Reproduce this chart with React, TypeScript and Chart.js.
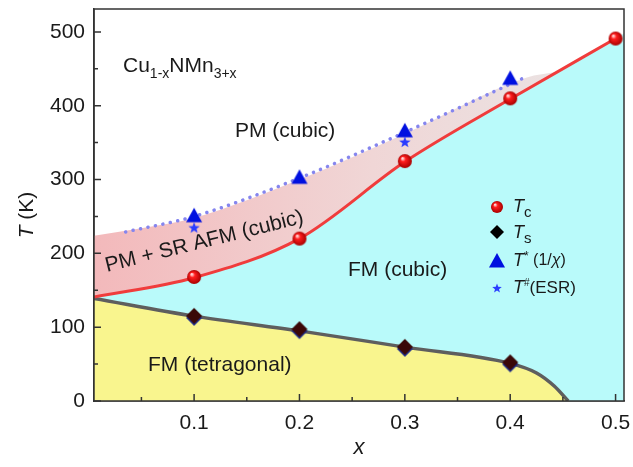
import { useEffect, useRef } from 'react'
import { Chart, registerables } from 'chart.js'

Chart.register(...registerables)

const FONT = '"Liberation Sans", Arial, sans-serif'

// measured points
const tcX = [0.1, 0.2, 0.3, 0.4, 0.5]
const tcValues = [168, 220, 325, 410, 491]
const tsX = [0.1, 0.2, 0.3, 0.4]
const tsValues = [114, 96, 72, 51]
const tStarX = [0.1, 0.2, 0.3, 0.4]
const tStarValues = [251, 303, 366, 437]
const esrX = [0.1, 0.3]
const esrValues = [235, 351]

// phase boundaries
const tcLineX = [0.005, 0.1, 0.2, 0.3, 0.4, 0.5]
const tcLineY = [141, 167, 220, 324, 409, 491]
const cubicEdgeX = [0.005, 0.1, 0.2, 0.3, 0.4, 0.5, 0.508]
const cubicEdgeY = [141, 167, 220, 324, 409, 491, 498]
const tsLineX = [0.005, 0.1, 0.2, 0.3, 0.4, 0.425, 0.442, 0.455]
const tsLineY = [139, 115, 95, 73, 51, 38, 20, 0]
const pinkEdgeX = [0.005, 0.05, 0.1, 0.2, 0.3, 0.415, 0.445]
const pinkEdgeY = [224, 234, 248, 300, 362, 438, 446]
const dotLineX = [0.035, 0.1, 0.2, 0.3, 0.415]
const dotLineY = [229, 250, 302, 364, 439]

// ticks
const xMajor = [0.1, 0.2, 0.3, 0.4, 0.5]
const xMinor = [0.05, 0.15, 0.25, 0.35, 0.45]
const xTickLabels = ['0.1', '0.2', '0.3', '0.4', '0.5']
const yMajor = [0, 100, 200, 300, 400, 500]
const yMinor = [50, 150, 250, 350, 450]
const yTickLabels = ['0', '100', '200', '300', '400', '500']

const pts = (xs: number[], ys: number[]) => xs.map((x, i) => ({ x, y: ys[i] }))
const near = (a: number, b: number) => Math.abs(a - b) < 1e-9

function makeSphere(r: number) {
  const c = document.createElement('canvas')
  c.width = c.height = r * 2 + 2
  const g = c.getContext('2d')!
  const cx = r + 1
  const grad = g.createRadialGradient(cx - r * 0.35, cx - r * 0.4, r * 0.1, cx, cx, r)
  grad.addColorStop(0, '#ffd6d6')
  grad.addColorStop(0.3, '#ff1e1e')
  grad.addColorStop(1, '#a80000')
  g.fillStyle = grad
  g.beginPath()
  g.arc(cx, cx, r, 0, Math.PI * 2)
  g.fill()
  return c
}

function makeDiamond(r: number, shadow: boolean) {
  const c = document.createElement('canvas')
  c.width = r * 2 + 2
  c.height = r * 2 + 4
  const g = c.getContext('2d')!
  const diamond = (cy: number, color: string) => {
    g.fillStyle = color
    g.beginPath()
    g.moveTo(r + 1, cy - r)
    g.lineTo(r * 2 + 1, cy)
    g.lineTo(r + 1, cy + r)
    g.lineTo(1, cy)
    g.closePath()
    g.fill()
  }
  if (shadow) diamond(r + 3, '#1c2a8a')
  diamond(r + 1, shadow ? '#3a0808' : '#000000')
  return c
}

function makeTriangle(r: number, color: string) {
  const c = document.createElement('canvas')
  c.width = c.height = r * 2 + 2
  const g = c.getContext('2d')!
  g.fillStyle = color
  g.beginPath()
  g.moveTo(r + 1, 1)
  g.lineTo(r * 2 + 1, r * 2 * 0.9 + 1)
  g.lineTo(1, r * 2 * 0.9 + 1)
  g.closePath()
  g.fill()
  return c
}

function makeStar(r: number, color: string) {
  const c = document.createElement('canvas')
  c.width = c.height = r * 2 + 2
  const g = c.getContext('2d')!
  g.fillStyle = color
  g.beginPath()
  for (let i = 0; i < 10; i++) {
    const rad = i % 2 === 0 ? r : r * 0.42
    const a = -Math.PI / 2 + (i * Math.PI) / 5
    const px = r + 1 + rad * Math.cos(a)
    const py = r + 1.5 + rad * Math.sin(a)
    if (i === 0) g.moveTo(px, py)
    else g.lineTo(px, py)
  }
  g.closePath()
  g.fill()
  return c
}

type Seg = { t: string; size: number; italic?: boolean; dy?: number }

function drawRich(ctx: CanvasRenderingContext2D, x: number, y: number, segs: Seg[]) {
  let cx = x
  segs.forEach(s => {
    ctx.font = `${s.italic ? 'italic ' : ''}${s.size}px ${FONT}`
    ctx.fillText(s.t, cx, y + (s.dy || 0))
    cx += ctx.measureText(s.t).width
  })
}

const App: React.FC = () => {
  const chartRef = useRef<HTMLCanvasElement>(null)
  const chartInstanceRef = useRef<Chart | null>(null)

  useEffect(() => {
    if (!chartRef.current) return
    if (chartInstanceRef.current) chartInstanceRef.current.destroy()

    const sphere = makeSphere(7)
    const diamond = makeDiamond(8, true)
    const triangle = makeTriangle(8, '#0010e0')
    const star = makeStar(6, '#2a3cff')
    const legSphere = makeSphere(6)
    const legDiamond = makeDiamond(7, false)
    const legTriangle = makeTriangle(8, '#0010e0')
    const legStar = makeStar(5, '#2a3cff')

    const overlay = {
      id: 'overlay',
      afterDatasetsDraw(chart: Chart) {
        const { ctx, chartArea: a } = chart
        const xs = chart.scales.x
        const ys = chart.scales.y
        ctx.save()
        ctx.strokeStyle = '#333333'
        ctx.lineWidth = 1.5
        ctx.strokeRect(a.left, a.top, a.right - a.left, a.bottom - a.top)
        ctx.beginPath()
        xs.ticks.forEach(t => {
          const px = xs.getPixelForValue(t.value)
          const len = xMajor.some(m => near(m, t.value)) ? 7 : 4
          ctx.moveTo(px, a.bottom)
          ctx.lineTo(px, a.bottom - len)
        })
        ys.ticks.forEach(t => {
          const py = ys.getPixelForValue(t.value)
          const len = yMajor.some(m => near(m, t.value)) ? 7 : 4
          ctx.moveTo(a.left, py)
          ctx.lineTo(a.left + len, py)
        })
        ctx.stroke()

        // region labels
        ctx.fillStyle = '#1a1a1a'
        ctx.textBaseline = 'alphabetic'
        ctx.textAlign = 'left'
        drawRich(ctx, 123, 72, [
          { t: 'Cu', size: 21 },
          { t: '1-x', size: 14, dy: 6 },
          { t: 'NMn', size: 21 },
          { t: '3+x', size: 14, dy: 6 },
        ])
        drawRich(ctx, 235, 137, [{ t: 'PM (cubic)', size: 21 }])
        drawRich(ctx, 348, 276, [{ t: 'FM (cubic)', size: 21 }])
        drawRich(ctx, 148, 371, [{ t: 'FM (tetragonal)', size: 21 }])
        ctx.save()
        ctx.translate(107, 272)
        ctx.rotate((-14 * Math.PI) / 180)
        drawRich(ctx, 0, 0, [{ t: 'PM + SR AFM (cubic)', size: 21 }])
        ctx.restore()

        // legend
        const lx = 497
        const tx = 513
        const rows = [207, 233, 261, 288]
        const marks = [legSphere, legDiamond, legTriangle, legStar]
        marks.forEach((m, i) => ctx.drawImage(m, lx - m.width / 2, rows[i] - m.height / 2))
        ctx.textBaseline = 'middle'
        drawRich(ctx, tx, rows[0], [{ t: 'T', size: 18, italic: true }, { t: 'c', size: 15, dy: 6 }])
        drawRich(ctx, tx, rows[1], [{ t: 'T', size: 18, italic: true }, { t: 's', size: 15, dy: 6 }])
        drawRich(ctx, tx, rows[2], [
          { t: 'T', size: 18, italic: true },
          { t: '*', size: 12, dy: -4 },
          { t: ' (1/', size: 16 },
          { t: 'χ', size: 16, italic: true },
          { t: ')', size: 16 },
        ])
        drawRich(ctx, tx, rows[3], [
          { t: 'T', size: 18, italic: true },
          { t: '#', size: 10, dy: -5 },
          { t: '(ESR)', size: 17 },
        ])

        // axis titles
        ctx.textBaseline = 'alphabetic'
        ctx.textAlign = 'center'
        ctx.font = `italic 22px ${FONT}`
        ctx.fillText('x', (a.left + a.right) / 2, 454)
        ctx.save()
        ctx.translate(33, 215)
        ctx.rotate(-Math.PI / 2)
        ctx.textAlign = 'left'
        ctx.font = `italic 21px ${FONT}`
        const tw = ctx.measureText('T').width
        ctx.font = `21px ${FONT}`
        const kw = ctx.measureText(' (K)').width
        const sx = -(tw + kw) / 2
        ctx.font = `italic 21px ${FONT}`
        ctx.fillText('T', sx, 0)
        ctx.font = `21px ${FONT}`
        ctx.fillText(' (K)', sx + tw, 0)
        ctx.restore()
        ctx.restore()
      },
    }

    const ctx = chartRef.current.getContext('2d')
    if (!ctx) return

    chartInstanceRef.current = new Chart(ctx, {
      type: 'line',
      data: {
        datasets: [
          // markers
          {
            data: pts(tcX, tcValues),
            showLine: false,
            pointStyle: sphere as any,
            pointRadius: 7,
            order: 1,
          },
          {
            data: pts(tsX, tsValues),
            showLine: false,
            pointStyle: diamond as any,
            pointRadius: 8,
            order: 2,
          },
          {
            data: pts(tStarX, tStarValues),
            showLine: false,
            pointStyle: triangle as any,
            pointRadius: 8,
            order: 3,
          },
          {
            data: pts(esrX, esrValues),
            showLine: false,
            pointStyle: star as any,
            pointRadius: 6,
            order: 4,
          },
          // T* dotted line
          {
            data: pts(dotLineX, dotLineY),
            borderColor: '#8585ee',
            borderWidth: 3.5,
            borderDash: [0.1, 7.5],
            borderCapStyle: 'round',
            pointRadius: 0,
            cubicInterpolationMode: 'monotone',
            fill: false,
            order: 6,
          },
          // Tc line
          {
            data: pts(tcLineX, tcLineY),
            borderColor: '#f03c3c',
            borderWidth: 3,
            pointRadius: 0,
            cubicInterpolationMode: 'monotone',
            fill: false,
            order: 7,
          },
          // Ts line with tetragonal region
          {
            data: pts(tsLineX, tsLineY),
            borderColor: '#5e5e5e',
            borderWidth: 3.5,
            pointRadius: 0,
            cubicInterpolationMode: 'monotone',
            fill: 'origin',
            backgroundColor: '#f9f58e',
            order: 8,
          },
          // cubic FM region
          {
            data: pts(cubicEdgeX, cubicEdgeY),
            borderWidth: 0,
            borderColor: 'rgba(0,0,0,0)',
            pointRadius: 0,
            cubicInterpolationMode: 'monotone',
            fill: 'origin',
            backgroundColor: '#b9fafa',
            order: 9,
          },
          // PM + SR AFM region
          {
            data: pts(pinkEdgeX, pinkEdgeY),
            borderWidth: 0,
            borderColor: 'rgba(0,0,0,0)',
            pointRadius: 0,
            cubicInterpolationMode: 'monotone',
            fill: 'origin',
            backgroundColor: (c: any) => {
              const chart = c.chart
              const area = chart.chartArea
              if (!area) return '#f2bcbc'
              const g = chart.ctx.createLinearGradient(
                area.left,
                0,
                chart.scales.x.getPixelForValue(pinkEdgeX[pinkEdgeX.length - 1]),
                0
              )
              g.addColorStop(0, '#f3b9bb')
              g.addColorStop(0.6, '#f0d6d6')
              g.addColorStop(1, '#ebe2e2')
              return g
            },
            order: 10,
          },
        ],
      },
      options: {
        responsive: true,
        maintainAspectRatio: false,
        animation: false,
        layout: { padding: { top: 8, right: 4, left: 0, bottom: 0 } },
        plugins: {
          legend: { display: false },
          tooltip: { enabled: false },
        },
        scales: {
          x: {
            type: 'linear',
            min: 0.005,
            max: 0.508,
            grid: { display: false, drawTicks: false },
            border: { display: true, color: '#333333', width: 1.5 },
            afterBuildTicks: (scale: any) => {
              scale.ticks = [...xMajor, ...xMinor].sort((p, q) => p - q).map(v => ({ value: v }))
            },
            afterFit: (scale: any) => {
              scale.height = 66
              scale.paddingLeft = 0
              scale.paddingRight = 0
            },
            ticks: {
              autoSkip: false,
              maxRotation: 0,
              padding: 10,
              color: '#1a1a1a',
              font: { family: FONT, size: 21 },
              callback: (v: any) => {
                const i = xMajor.findIndex(m => near(m, Number(v)))
                return i >= 0 ? xTickLabels[i] : ''
              },
            },
          },
          y: {
            type: 'linear',
            min: 0,
            max: 531,
            grid: { display: false, drawTicks: false },
            border: { display: true, color: '#333333', width: 1.5 },
            afterBuildTicks: (scale: any) => {
              scale.ticks = [...yMajor, ...yMinor].sort((p, q) => p - q).map(v => ({ value: v }))
            },
            afterFit: (scale: any) => {
              scale.width = 94
              scale.paddingTop = 0
              scale.paddingBottom = 0
            },
            ticks: {
              autoSkip: false,
              padding: 9,
              color: '#1a1a1a',
              font: { family: FONT, size: 21 },
              callback: (v: any) => {
                const i = yMajor.findIndex(m => near(m, Number(v)))
                return i >= 0 ? yTickLabels[i] : ''
              },
            },
          },
        },
      },
      plugins: [overlay],
    } as any)

    return () => {
      if (chartInstanceRef.current) {
        chartInstanceRef.current.destroy()
        chartInstanceRef.current = null
      }
    }
  }, [])

  return (
    <div style={{ position: 'fixed', left: 0, top: 0, width: 633, height: 467, background: '#ffffff' }}>
      <canvas ref={chartRef}></canvas>
    </div>
  )
}

export default App
